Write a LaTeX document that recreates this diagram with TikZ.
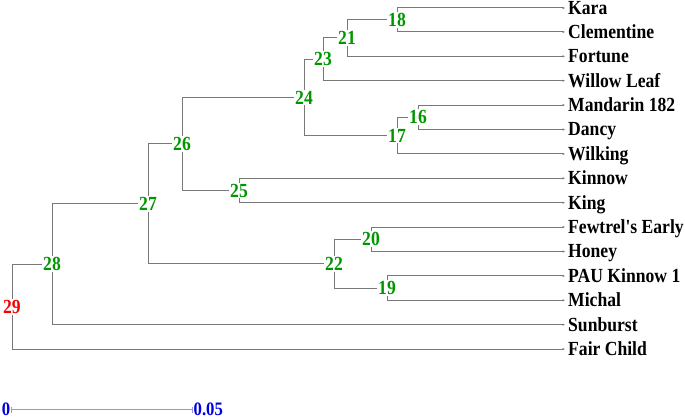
\documentclass[tikz,border=0pt]{standalone}
\usepackage{fontspec}
\setmainfont{Liberation Serif}[FakeStretch=0.88, Ligatures=TeXOff]
\usepackage{tikz}
\usetikzlibrary{arrows.meta}
\definecolor{branchgray}{RGB}{120,120,120}
\definecolor{clustergreen}{RGB}{0,150,0}
\definecolor{rootred}{RGB}{250,0,0}
\definecolor{barblue}{RGB}{150,150,225}
\definecolor{scaleblue}{RGB}{0,0,220}
\tikzset{
    branch/.style={draw=branchgray, line width=1pt},
    leaf/.style={anchor=west, inner xsep=3pt, inner ysep=0pt, text height=13pt, text depth=0pt,
        font=\fontsize{20}{23}\selectfont\bfseries},
    cluster/.style={inner sep=1pt, text=clustergreen, font=\fontsize{20}{23}\selectfont\bfseries},
    scaletext/.style={inner sep=0.5pt, text=scaleblue, font=\fontsize{19}{22}\selectfont\bfseries}
}

\begin{document}
\begin{tikzpicture}[x=1pt, y=-1pt]
    \useasboundingbox (0,0) rectangle (685,419);

    % Leaves (cultivars)
    \node[leaf] (kara)  at (565,8)     {Kara};
    \node[leaf] (clem)  at (565,31.9)  {Clementine};
    \node[leaf] (fort)  at (565,56.3)  {Fortune};
    \node[leaf] (will)  at (565,80.7)  {Willow Leaf};
    \node[leaf] (mand)  at (565,105.1) {Mandarin 182};
    \node[leaf] (dancy) at (565,129.5) {Dancy};
    \node[leaf] (wilk)  at (565,153.9) {Wilking};
    \node[leaf] (kinn)  at (565,178.3) {Kinnow};
    \node[leaf] (king)  at (565,202.7) {King};
    \node[leaf] (fewt)  at (565,227.1) {Fewtrel's Early};
    \node[leaf] (honey) at (565,251.5) {Honey};
    \node[leaf] (pau)   at (565,275.9) {PAU Kinnow 1};
    \node[leaf] (mich)  at (565,300.3) {Michal};
    \node[leaf] (sunb)  at (565,324.7) {Sunburst};
    \node[leaf] (fair)  at (565,349.1) {Fair Child};

    % Clusters
    \node[cluster] (c18) at (397,20)    {18};
    \node[cluster] (c21) at (347,38)    {21};
    \node[cluster] (c23) at (323,59.4)  {23};
    \node[cluster] (c16) at (418,117.3) {16};
    \node[cluster] (c17) at (397,135.6) {17};
    \node[cluster] (c24) at (304,97.5)  {24};
    \node[cluster] (c25) at (239,190.5) {25};
    \node[cluster] (c26) at (182,144)   {26};
    \node[cluster] (c20) at (371,239.3) {20};
    \node[cluster] (c19) at (387,288.1) {19};
    \node[cluster] (c22) at (334,263.7) {22};
    \node[cluster] (c27) at (148,203.9) {27};
    \node[cluster] (c28) at (52,264.3)  {28};
    \node[cluster, text=rootred] (c29) at (12,306.7) {29};

    % Branches to leaves
    \foreach \from/\to in {c18/kara, c18/clem, c21/fort, c23/will, c16/mand, c16/dancy,
        c17/wilk, c25/kinn, c25/king, c20/fewt, c20/honey, c19/pau, c19/mich,
        c28/sunb, c29/fair}
        \draw[branch, -{Latex[length=2.5pt, width=2.5pt]}] (\from) |- (\to.west);

    % Branches between clusters
    \foreach \from/\to in {c21/c18, c23/c21, c24/c23, c17/c16, c24/c17, c26/c24,
        c26/c25, c27/c26, c22/c20, c22/c19, c27/c22, c28/c27, c29/c28}
        \draw[branch] (\from) |- (\to);

    % Scale bar
    \node[scaletext, anchor=east] (s0) at (11,409.5) {0};
    \node[scaletext, anchor=west] (s5) at (193,409.5) {0.05};
    \draw[barblue, line width=0.8pt, {Bar[width=6pt]}-{Bar[width=6pt]}] (s0) -- (s5);
\end{tikzpicture}
\end{document}
